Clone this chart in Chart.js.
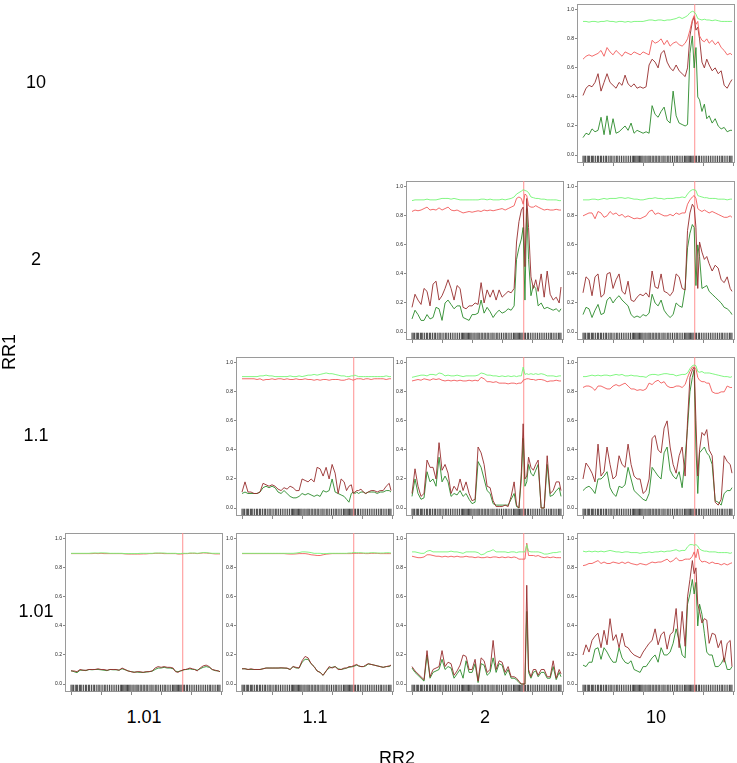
<!DOCTYPE html>
<html>
<head>
<meta charset="utf-8">
<script src="https://cdn.jsdelivr.net/npm/chart.js@4.4.1/dist/chart.umd.min.js"></script>
<style>
  body { margin:0; background:#fff; width:737px; height:763px; position:relative; overflow:hidden;
         font-family:'Liberation Sans', Arial, sans-serif; }
  canvas.panel { position:absolute; }
  .lab { position:absolute; font-size:18px; color:#000; transform:translate(-50%,-50%); white-space:nowrap; }
  .rot { transform:translate(-50%,-50%) rotate(-90deg); }
</style>
</head>
<body>
<script>
/* ── data ─────────────────────────────────────────────────────────────────── */

const RR_LEVELS = ["1.01","1.1","2","10"];
const Y_TICKS = [0,0.2,0.4,0.6,0.8,1.0];
const X_TICKS = [0,50,100,150,200,250];
const MARK_X = 186;

// marker positions shared by every panel
const X_POS = [0,5,10,15,20,25,30,35,40,45,
  50,55,60,65,70,75,80,85,90,95,
  100,105,110,115,120,125,130,135,140,145,
  150,155,160,165,170,174,178,182,185,188,
  191,194,198,202,206,210,215,220,225,230,
  235,240,245,248];

// rug positions
const RUG_POS = [0,2,4,7,9,11,14,16,18,21,24,26,29,31,34,37,39,42,45,47,50,53,56,58,61,64,67,70,73,76,
  79,82,84,86,88,90,92,94,96,98,100,103,105,108,110,112,115,117,120,122,125,127,130,133,135,138,141,143,
  146,149,152,155,157,160,163,166,169,171,173,175,177,179,181,183,185,187,189,192,194,197,200,203,206,
  209,212,215,218,221,224,227,230,232,235,238,241,244,246,248];

// RR1 = 10, RR2 = 10
const lg_10_10 = [0.92,0.92,0.915,0.92,0.92,0.915,0.92,0.92,0.925,0.92,
  0.92,0.915,0.92,0.92,0.915,0.92,0.915,0.92,0.92,0.92,
  0.92,0.925,0.93,0.93,0.925,0.93,0.93,0.925,0.93,0.93,
  0.935,0.94,0.95,0.94,0.95,0.96,0.98,0.99,0.985,0.97,
  0.94,0.935,0.93,0.935,0.93,0.93,0.925,0.93,0.925,0.92,
  0.92,0.92,0.92,0.92];
const rd_10_10 = [0.66,0.68,0.69,0.68,0.69,0.70,0.72,0.68,0.74,0.71,
  0.69,0.72,0.70,0.68,0.71,0.70,0.69,0.71,0.70,0.69,
  0.71,0.70,0.69,0.79,0.77,0.78,0.80,0.76,0.79,0.75,
  0.77,0.78,0.76,0.75,0.77,0.80,0.86,0.93,0.96,0.90,
  0.92,0.82,0.79,0.78,0.80,0.77,0.79,0.76,0.78,0.74,
  0.72,0.69,0.70,0.69];
const dr_10_10 = [0.41,0.46,0.48,0.47,0.50,0.56,0.44,0.50,0.56,0.50,
  0.48,0.46,0.50,0.48,0.55,0.49,0.47,0.49,0.46,0.47,
  0.46,0.47,0.62,0.66,0.64,0.60,0.70,0.72,0.64,0.60,
  0.58,0.62,0.58,0.56,0.54,0.60,0.82,0.92,0.95,0.86,
  0.88,0.80,0.64,0.60,0.66,0.62,0.58,0.60,0.56,0.58,
  0.48,0.46,0.50,0.52];
const dg_10_10 = [0.12,0.15,0.14,0.18,0.16,0.17,0.26,0.14,0.27,0.14,
  0.25,0.15,0.16,0.18,0.20,0.17,0.22,0.15,0.17,0.16,
  0.15,0.16,0.15,0.34,0.28,0.26,0.30,0.33,0.24,0.22,
  0.44,0.27,0.22,0.21,0.20,0.21,0.70,0.82,0.60,0.74,
  0.40,0.38,0.30,0.35,0.25,0.27,0.22,0.25,0.20,0.18,
  0.19,0.16,0.17,0.17];

// RR1 = 2, RR2 = 2
const lg_2_2 = [0.905,0.91,0.91,0.91,0.91,0.915,0.91,0.91,0.91,0.915,
  0.92,0.92,0.92,0.915,0.92,0.915,0.91,0.91,0.91,0.91,
  0.91,0.91,0.91,0.915,0.915,0.91,0.915,0.91,0.91,0.91,
  0.915,0.91,0.915,0.92,0.93,0.95,0.96,0.97,0.98,0.975,
  0.97,0.96,0.93,0.925,0.92,0.92,0.915,0.915,0.91,0.91,
  0.91,0.91,0.905,0.905];
const rd_2_2 = [0.83,0.84,0.835,0.84,0.85,0.86,0.84,0.845,0.84,0.855,
  0.84,0.85,0.86,0.84,0.835,0.84,0.83,0.82,0.825,0.83,
  0.825,0.83,0.835,0.83,0.84,0.835,0.84,0.835,0.84,0.845,
  0.85,0.84,0.85,0.86,0.87,0.92,0.93,0.92,0.88,0.95,
  0.94,0.87,0.86,0.86,0.87,0.86,0.85,0.84,0.845,0.84,
  0.84,0.845,0.84,0.84];
const dr_2_2 = [0.17,0.26,0.22,0.19,0.30,0.28,0.18,0.33,0.35,0.22,
  0.25,0.30,0.36,0.30,0.22,0.32,0.30,0.17,0.16,0.18,
  0.18,0.20,0.19,0.34,0.20,0.29,0.24,0.29,0.22,0.29,
  0.24,0.26,0.28,0.27,0.30,0.62,0.76,0.84,0.86,0.45,
  0.92,0.72,0.38,0.30,0.36,0.28,0.40,0.24,0.42,0.26,
  0.22,0.24,0.20,0.31];
const dg_2_2 = [0.09,0.15,0.12,0.08,0.08,0.12,0.09,0.10,0.17,0.16,
  0.08,0.20,0.22,0.19,0.16,0.18,0.18,0.10,0.09,0.08,
  0.12,0.12,0.13,0.22,0.13,0.17,0.14,0.10,0.13,0.15,
  0.13,0.14,0.16,0.15,0.18,0.50,0.58,0.64,0.72,0.22,
  0.85,0.50,0.25,0.32,0.30,0.18,0.20,0.16,0.17,0.16,
  0.15,0.16,0.14,0.16];

// RR1 = 2, RR2 = 10
const lg_2_10 = [0.91,0.91,0.91,0.915,0.915,0.91,0.915,0.92,0.915,0.92,
  0.92,0.92,0.925,0.925,0.92,0.925,0.92,0.915,0.915,0.91,
  0.91,0.915,0.92,0.92,0.925,0.92,0.92,0.915,0.92,0.92,
  0.92,0.925,0.925,0.93,0.925,0.95,0.97,0.98,0.98,0.975,
  0.94,0.935,0.93,0.925,0.925,0.92,0.92,0.92,0.915,0.915,
  0.915,0.91,0.915,0.915];
const rd_2_10 = [0.80,0.81,0.82,0.82,0.78,0.83,0.82,0.79,0.80,0.83,
  0.81,0.82,0.80,0.81,0.79,0.80,0.79,0.78,0.785,0.78,
  0.79,0.80,0.83,0.84,0.81,0.82,0.81,0.80,0.80,0.81,
  0.80,0.82,0.81,0.82,0.82,0.88,0.91,0.93,0.94,0.92,
  0.85,0.84,0.83,0.84,0.83,0.82,0.83,0.82,0.81,0.80,
  0.79,0.79,0.80,0.79];
const dr_2_10 = [0.27,0.38,0.36,0.25,0.38,0.40,0.24,0.26,0.40,0.41,
  0.30,0.36,0.40,0.28,0.26,0.35,0.22,0.21,0.24,0.26,
  0.25,0.27,0.24,0.42,0.31,0.30,0.40,0.28,0.27,0.25,
  0.28,0.40,0.38,0.30,0.29,0.70,0.82,0.88,0.86,0.72,
  0.30,0.62,0.55,0.50,0.52,0.47,0.42,0.46,0.44,0.36,
  0.34,0.38,0.30,0.28];
const dg_2_10 = [0.12,0.17,0.16,0.10,0.15,0.19,0.12,0.13,0.22,0.24,
  0.20,0.23,0.25,0.22,0.20,0.18,0.12,0.10,0.11,0.10,
  0.12,0.11,0.13,0.26,0.20,0.18,0.22,0.15,0.12,0.10,
  0.12,0.20,0.18,0.17,0.30,0.58,0.68,0.74,0.72,0.32,
  0.60,0.52,0.30,0.31,0.32,0.28,0.26,0.24,0.22,0.20,
  0.17,0.16,0.14,0.12];

// RR1 = 1.1, RR2 = 1.1
const lg_11_11 = [0.905,0.905,0.905,0.905,0.905,0.905,0.91,0.91,0.915,0.91,
  0.91,0.905,0.905,0.905,0.905,0.905,0.91,0.905,0.905,0.91,
  0.905,0.91,0.915,0.915,0.92,0.915,0.92,0.925,0.93,0.925,
  0.925,0.92,0.915,0.91,0.91,0.905,0.905,0.91,0.91,0.915,
  0.91,0.905,0.905,0.905,0.905,0.905,0.905,0.905,0.905,0.905,
  0.905,0.91,0.905,0.905];
const rd_11_11 = [0.89,0.89,0.89,0.89,0.89,0.885,0.89,0.88,0.885,0.885,
  0.89,0.885,0.89,0.89,0.885,0.89,0.885,0.885,0.89,0.885,
  0.885,0.89,0.885,0.885,0.88,0.885,0.88,0.885,0.885,0.88,
  0.885,0.885,0.885,0.88,0.88,0.885,0.89,0.885,0.88,0.885,
  0.89,0.89,0.89,0.885,0.89,0.89,0.885,0.89,0.89,0.89,
  0.89,0.885,0.89,0.89];
const dr_11_11 = [0.11,0.18,0.11,0.11,0.10,0.10,0.11,0.17,0.16,0.15,
  0.16,0.15,0.13,0.12,0.14,0.13,0.15,0.14,0.12,0.12,
  0.20,0.19,0.18,0.20,0.18,0.28,0.27,0.22,0.28,0.20,
  0.30,0.24,0.10,0.20,0.18,0.12,0.15,0.16,0.10,0.11,
  0.12,0.12,0.13,0.11,0.10,0.11,0.12,0.12,0.11,0.12,
  0.12,0.15,0.17,0.12];
const dg_11_11 = [0.10,0.11,0.10,0.10,0.10,0.10,0.11,0.14,0.15,0.14,
  0.15,0.14,0.11,0.10,0.12,0.10,0.08,0.07,0.07,0.08,
  0.10,0.09,0.10,0.09,0.08,0.09,0.08,0.12,0.11,0.12,
  0.20,0.11,0.10,0.09,0.08,0.06,0.04,0.10,0.11,0.10,
  0.11,0.10,0.11,0.11,0.10,0.11,0.11,0.11,0.10,0.11,
  0.11,0.12,0.12,0.11];

// RR1 = 1.1, RR2 = 2
const lg_11_2 = [0.90,0.905,0.91,0.915,0.915,0.91,0.92,0.92,0.915,0.93,
  0.925,0.91,0.915,0.91,0.91,0.915,0.91,0.905,0.91,0.91,
  0.91,0.91,0.915,0.93,0.925,0.915,0.915,0.91,0.91,0.905,
  0.91,0.905,0.91,0.905,0.91,0.905,0.91,0.91,0.97,0.92,
  0.925,0.92,0.925,0.92,0.925,0.92,0.925,0.92,0.91,0.91,
  0.91,0.905,0.91,0.91];
const rd_11_2 = [0.875,0.88,0.885,0.88,0.89,0.885,0.88,0.89,0.885,0.89,
  0.88,0.875,0.88,0.875,0.88,0.875,0.88,0.875,0.875,0.88,
  0.875,0.88,0.875,0.90,0.89,0.87,0.87,0.865,0.87,0.86,
  0.86,0.86,0.855,0.86,0.86,0.855,0.86,0.86,0.88,0.885,
  0.89,0.89,0.885,0.885,0.88,0.885,0.885,0.88,0.87,0.875,
  0.875,0.88,0.875,0.875];
const dr_11_2 = [0.10,0.27,0.15,0.08,0.10,0.33,0.28,0.28,0.20,0.45,
  0.26,0.30,0.24,0.10,0.15,0.12,0.20,0.12,0.18,0.10,
  0.05,0.06,0.42,0.38,0.30,0.15,0.14,0.05,0.01,0.01,
  0.01,0.02,0.01,0.08,0.18,0.02,0.0,0.25,0.58,0.20,
  0.22,0.35,0.28,0.26,0.30,0.33,0.0,0.0,0.36,0.10,
  0.12,0.18,0.18,0.12];
const dg_11_2 = [0.08,0.20,0.10,0.06,0.07,0.25,0.18,0.20,0.15,0.35,
  0.18,0.22,0.18,0.08,0.10,0.09,0.12,0.08,0.10,0.06,
  0.03,0.04,0.32,0.28,0.20,0.12,0.10,0.03,0.02,0.02,
  0.02,0.02,0.02,0.06,0.10,0.01,0.0,0.20,0.48,0.15,
  0.18,0.30,0.24,0.22,0.26,0.30,0.0,0.0,0.30,0.08,
  0.09,0.12,0.14,0.08];

// RR1 = 1.1, RR2 = 10
const lg_11_10 = [0.905,0.905,0.91,0.915,0.91,0.915,0.91,0.915,0.915,0.91,
  0.915,0.92,0.915,0.92,0.91,0.91,0.915,0.91,0.91,0.905,
  0.905,0.90,0.915,0.92,0.92,0.915,0.92,0.925,0.925,0.92,
  0.92,0.91,0.915,0.92,0.92,0.93,0.96,0.98,0.985,0.98,
  0.94,0.935,0.94,0.93,0.93,0.93,0.925,0.92,0.915,0.91,
  0.905,0.905,0.90,0.905];
const rd_11_10 = [0.83,0.84,0.84,0.83,0.81,0.84,0.84,0.83,0.82,0.82,
  0.84,0.85,0.84,0.85,0.86,0.84,0.82,0.82,0.81,0.815,
  0.81,0.82,0.86,0.85,0.87,0.88,0.86,0.87,0.84,0.83,
  0.83,0.84,0.84,0.83,0.85,0.90,0.94,0.97,0.97,0.96,
  0.90,0.88,0.87,0.87,0.86,0.86,0.80,0.79,0.79,0.80,
  0.80,0.84,0.83,0.83];
const dr_11_10 = [0.20,0.31,0.28,0.24,0.18,0.44,0.22,0.25,0.42,0.30,
  0.20,0.22,0.36,0.30,0.28,0.44,0.30,0.22,0.20,0.20,
  0.10,0.12,0.20,0.48,0.50,0.40,0.38,0.55,0.60,0.42,
  0.30,0.24,0.36,0.42,0.22,0.60,0.90,0.95,0.97,0.60,
  0.22,0.40,0.52,0.50,0.54,0.40,0.36,0.04,0.02,0.06,
  0.36,0.32,0.30,0.24];
const dg_11_10 = [0.12,0.14,0.15,0.13,0.10,0.20,0.20,0.22,0.25,0.14,
  0.10,0.08,0.15,0.14,0.16,0.28,0.20,0.12,0.10,0.08,
  0.06,0.05,0.10,0.28,0.25,0.22,0.20,0.38,0.42,0.26,
  0.22,0.20,0.25,0.14,0.35,0.55,0.80,0.90,0.95,0.42,
  0.10,0.38,0.40,0.42,0.38,0.36,0.30,0.05,0.04,0.02,
  0.10,0.12,0.12,0.14];

// RR1 = 1.01, RR2 = 1.01
const lg_101_101 = [0.90,0.90,0.90,0.90,0.90,0.90,0.90,0.902,0.902,0.902,
  0.903,0.903,0.902,0.90,0.90,0.90,0.90,0.90,0.898,0.898,
  0.898,0.898,0.898,0.90,0.90,0.90,0.90,0.90,0.902,0.902,
  0.902,0.902,0.90,0.90,0.90,0.90,0.898,0.898,0.90,0.90,
  0.90,0.90,0.902,0.902,0.902,0.90,0.902,0.905,0.905,0.902,
  0.90,0.90,0.90,0.90];
const rd_101_101 = [0.898,0.898,0.898,0.898,0.898,0.898,0.898,0.898,0.90,0.898,
  0.90,0.898,0.898,0.898,0.898,0.898,0.898,0.898,0.896,0.895,
  0.895,0.895,0.895,0.895,0.896,0.896,0.898,0.898,0.90,0.90,
  0.90,0.898,0.898,0.898,0.898,0.898,0.895,0.895,0.896,0.898,
  0.898,0.898,0.90,0.90,0.90,0.898,0.90,0.903,0.902,0.90,
  0.898,0.896,0.896,0.896];
const dr_101_101 = [0.09,0.09,0.085,0.10,0.095,0.095,0.10,0.10,0.10,0.105,
  0.10,0.10,0.095,0.10,0.10,0.10,0.095,0.11,0.10,0.09,
  0.085,0.08,0.085,0.085,0.08,0.085,0.085,0.09,0.11,0.12,
  0.115,0.12,0.115,0.115,0.11,0.085,0.08,0.09,0.095,0.10,
  0.10,0.105,0.11,0.105,0.10,0.09,0.11,0.125,0.13,0.12,
  0.10,0.095,0.09,0.085];
const dg_101_101 = [0.092,0.085,0.078,0.095,0.095,0.092,0.10,0.098,0.10,0.10,
  0.098,0.095,0.092,0.10,0.098,0.098,0.095,0.105,0.098,0.09,
  0.085,0.082,0.082,0.08,0.08,0.082,0.085,0.088,0.10,0.11,
  0.11,0.115,0.11,0.11,0.105,0.088,0.085,0.09,0.092,0.098,
  0.10,0.10,0.105,0.10,0.10,0.095,0.105,0.115,0.12,0.115,
  0.10,0.092,0.09,0.085];

// RR1 = 1.01, RR2 = 1.1
const lg_101_11 = [0.90,0.90,0.90,0.90,0.90,0.90,0.90,0.90,0.90,0.90,
  0.90,0.90,0.90,0.90,0.90,0.90,0.90,0.90,0.902,0.905,
  0.91,0.91,0.908,0.905,0.90,0.90,0.90,0.898,0.898,0.90,
  0.90,0.90,0.90,0.90,0.90,0.90,0.902,0.902,0.905,0.905,
  0.904,0.904,0.904,0.902,0.902,0.902,0.904,0.904,0.902,0.902,
  0.902,0.904,0.904,0.902];
const rd_101_11 = [0.898,0.898,0.898,0.898,0.898,0.898,0.898,0.898,0.898,0.898,
  0.898,0.898,0.898,0.898,0.898,0.896,0.895,0.895,0.896,0.898,
  0.898,0.898,0.895,0.89,0.888,0.885,0.885,0.89,0.894,0.896,
  0.898,0.898,0.898,0.898,0.898,0.898,0.898,0.898,0.90,0.90,
  0.90,0.90,0.90,0.90,0.898,0.898,0.90,0.90,0.90,0.898,
  0.898,0.898,0.898,0.898];
const dr_101_11 = [0.105,0.105,0.10,0.105,0.10,0.10,0.10,0.105,0.11,0.11,
  0.11,0.11,0.11,0.112,0.11,0.11,0.10,0.12,0.115,0.11,
  0.16,0.19,0.18,0.14,0.12,0.09,0.08,0.06,0.09,0.12,
  0.11,0.12,0.10,0.10,0.11,0.11,0.12,0.12,0.125,0.13,
  0.135,0.125,0.12,0.12,0.13,0.14,0.135,0.13,0.125,0.12,
  0.115,0.12,0.125,0.13];
const dg_101_11 = [0.105,0.105,0.10,0.10,0.10,0.10,0.10,0.105,0.11,0.11,
  0.11,0.11,0.11,0.11,0.11,0.108,0.10,0.12,0.11,0.11,
  0.15,0.17,0.17,0.14,0.12,0.09,0.08,0.06,0.09,0.11,
  0.115,0.12,0.105,0.10,0.105,0.11,0.115,0.118,0.12,0.125,
  0.13,0.125,0.12,0.12,0.125,0.138,0.135,0.13,0.125,0.12,
  0.115,0.12,0.12,0.128];

// RR1 = 1.01, RR2 = 2
const lg_101_2 = [0.91,0.91,0.905,0.90,0.90,0.915,0.92,0.91,0.91,0.91,
  0.91,0.91,0.91,0.915,0.91,0.91,0.905,0.90,0.91,0.91,
  0.91,0.91,0.905,0.89,0.895,0.91,0.915,0.925,0.91,0.91,
  0.91,0.91,0.905,0.91,0.91,0.905,0.91,0.91,0.91,0.91,
  0.96,0.915,0.91,0.91,0.91,0.91,0.905,0.895,0.895,0.90,
  0.905,0.905,0.91,0.91];
const rd_101_2 = [0.88,0.875,0.87,0.87,0.875,0.89,0.89,0.885,0.88,0.88,
  0.875,0.88,0.875,0.88,0.875,0.88,0.875,0.875,0.88,0.875,
  0.875,0.87,0.875,0.87,0.87,0.875,0.87,0.875,0.875,0.87,
  0.875,0.87,0.875,0.87,0.875,0.87,0.86,0.86,0.86,0.86,
  0.97,0.885,0.885,0.885,0.88,0.885,0.875,0.87,0.875,0.87,
  0.875,0.87,0.87,0.87];
const dr_101_2 = [0.12,0.09,0.07,0.05,0.03,0.23,0.05,0.10,0.11,0.12,
  0.23,0.12,0.15,0.14,0.06,0.09,0.13,0.20,0.19,0.10,
  0.10,0.17,0.02,0.18,0.16,0.08,0.10,0.30,0.10,0.16,
  0.15,0.08,0.12,0.05,0.05,0.04,0.02,0.0,0.0,0.0,
  0.68,0.10,0.05,0.10,0.10,0.06,0.10,0.10,0.05,0.05,
  0.16,0.04,0.10,0.07];
const dg_101_2 = [0.11,0.08,0.06,0.04,0.02,0.20,0.04,0.08,0.09,0.10,
  0.17,0.10,0.12,0.11,0.04,0.07,0.10,0.04,0.16,0.08,
  0.08,0.14,0.01,0.14,0.13,0.06,0.08,0.18,0.08,0.14,
  0.13,0.06,0.10,0.04,0.04,0.03,0.01,0.0,0.0,0.0,
  0.50,0.08,0.04,0.08,0.09,0.05,0.08,0.08,0.04,0.04,
  0.12,0.03,0.08,0.05];

// RR1 = 1.01, RR2 = 10
const lg_101_10 = [0.915,0.91,0.915,0.91,0.915,0.91,0.915,0.91,0.915,0.92,
  0.915,0.91,0.91,0.905,0.91,0.91,0.905,0.905,0.905,0.90,
  0.905,0.905,0.91,0.905,0.91,0.91,0.915,0.91,0.915,0.915,
  0.92,0.925,0.915,0.92,0.92,0.945,0.96,0.96,0.955,0.96,
  0.95,0.93,0.92,0.915,0.915,0.91,0.91,0.91,0.905,0.905,
  0.905,0.905,0.90,0.905];
const rd_101_10 = [0.815,0.82,0.83,0.83,0.84,0.85,0.83,0.84,0.83,0.83,
  0.84,0.835,0.83,0.84,0.83,0.84,0.83,0.825,0.82,0.83,
  0.825,0.82,0.83,0.84,0.835,0.84,0.84,0.85,0.86,0.84,
  0.85,0.87,0.85,0.85,0.86,0.86,0.86,0.88,0.91,0.87,
  0.93,0.86,0.84,0.845,0.84,0.83,0.84,0.83,0.83,0.82,
  0.83,0.82,0.83,0.835];
const dr_101_10 = [0.20,0.27,0.22,0.30,0.33,0.35,0.25,0.37,0.27,0.45,
  0.30,0.34,0.25,0.35,0.26,0.25,0.22,0.20,0.19,0.18,
  0.22,0.25,0.28,0.30,0.38,0.27,0.34,0.36,0.24,0.34,
  0.36,0.52,0.25,0.50,0.26,0.60,0.72,0.85,0.76,0.80,
  0.55,0.50,0.42,0.45,0.44,0.28,0.35,0.34,0.25,0.30,
  0.15,0.28,0.30,0.12];
const dg_101_10 = [0.13,0.12,0.15,0.15,0.24,0.25,0.17,0.25,0.22,0.18,
  0.15,0.15,0.25,0.18,0.15,0.14,0.16,0.10,0.09,0.08,
  0.12,0.12,0.15,0.18,0.20,0.15,0.25,0.20,0.20,0.22,
  0.28,0.38,0.30,0.20,0.18,0.55,0.62,0.72,0.62,0.70,
  0.40,0.55,0.48,0.35,0.22,0.20,0.20,0.12,0.12,0.14,
  0.18,0.10,0.10,0.12];

// which panels exist: [RR1, RR2, series]
const PANELS = [
  ["10","10",  [lg_10_10, rd_10_10, dr_10_10, dg_10_10]],
  ["2","2",    [lg_2_2, rd_2_2, dr_2_2, dg_2_2]],
  ["2","10",   [lg_2_10, rd_2_10, dr_2_10, dg_2_10]],
  ["1.1","1.1",[lg_11_11, rd_11_11, dr_11_11, dg_11_11]],
  ["1.1","2",  [lg_11_2, rd_11_2, dr_11_2, dg_11_2]],
  ["1.1","10", [lg_11_10, rd_11_10, dr_11_10, dg_11_10]],
  ["1.01","1.01",[lg_101_101, rd_101_101, dr_101_101, dg_101_101]],
  ["1.01","1.1", [lg_101_11, rd_101_11, dr_101_11, dg_101_11]],
  ["1.01","2",   [lg_101_2, rd_101_2, dr_101_2, dg_101_2]],
  ["1.01","10",  [lg_101_10, rd_101_10, dr_101_10, dg_101_10]],
];

/* ── layout ───────────────────────────────────────────────────────────────── */

const COL_LEFT = [65, 236, 406, 577];   // frame left per RR2 level
const ROW_TOP  = [529, 353, 177, 0];    // frame top per RR1 level
const FRAME_W = 158, FRAME_H = 163, AXIS_W = 16, AXIS_H = 5;
const Y_MIN = -0.055, Y_MAX = 1.04, X_MIN = -10, X_MAX = 253;
const RUG_Y = -0.027;
const SERIES_COLORS = ["#74f574", "#f25a5a", "#962c2c", "#2a8a2a"];

const framePlugin = {
  id: "frame",
  beforeDatasetsDraw(chart) {
    const { ctx, chartArea: a } = chart;
    ctx.save();
    ctx.strokeStyle = "#9a9a9a";
    ctx.lineWidth = 1;
    ctx.strokeRect(a.left + 0.5, a.top + 0.5, a.right - a.left - 1, a.bottom - a.top - 1);
    ctx.restore();
  }
};

function addLabel(text, x, y, cls) {
  const d = document.createElement("div");
  d.className = "lab" + (cls ? " " + cls : "");
  d.textContent = text;
  d.style.left = x + "px";
  d.style.top = y + "px";
  document.body.appendChild(d);
}

function drawPanel(rr1, rr2, series) {
  const ci = RR_LEVELS.indexOf(rr2), ri = RR_LEVELS.indexOf(rr1);
  const cv = document.createElement("canvas");
  cv.className = "panel";
  cv.width = AXIS_W + FRAME_W;
  cv.height = FRAME_H + AXIS_H;
  cv.style.left = (COL_LEFT[ci] - AXIS_W) + "px";
  cv.style.top = ROW_TOP[ri] + "px";
  document.body.appendChild(cv);

  const lineSets = [3, 2, 1, 0].map(k => ({
    data: X_POS.map((x, i) => ({ x, y: series[k][i] })),
    borderColor: SERIES_COLORS[k], borderWidth: 0.9, pointRadius: 0, tension: 0, fill: false,
    order: k
  }));
  const markSet = {
    data: [{ x: MARK_X, y: Y_MIN }, { x: MARK_X, y: Y_MAX }],
    borderColor: "#ff9090", borderWidth: 1, pointRadius: 0, order: 10
  };
  const rugSet = {
    data: RUG_POS.map(x => ({ x, y: RUG_Y })),
    showLine: false, pointStyle: "line", rotation: 90, pointRadius: 3.2,
    borderColor: "#111", pointBorderWidth: 0.8, order: 11
  };

  new Chart(cv.getContext("2d"), {
    type: "line",
    data: { datasets: [...lineSets, markSet, rugSet] },
    options: {
      responsive: false, animation: false,
      layout: { padding: 0, autoPadding: false },
      plugins: { legend: { display: false }, tooltip: { enabled: false } },
      scales: {
        x: {
          type: "linear", min: X_MIN, max: X_MAX,
          afterBuildTicks: s => { s.ticks = X_TICKS.map(v => ({ value: v })); },
          afterFit: s => { s.height = AXIS_H; },
          ticks: { display: false },
          grid: { drawOnChartArea: false, drawTicks: true, tickLength: 3, color: "#888" },
          border: { display: false }
        },
        y: {
          min: Y_MIN, max: Y_MAX,
          afterBuildTicks: s => { s.ticks = Y_TICKS.map(v => ({ value: v })); },
          afterFit: s => { s.width = AXIS_W; },
          ticks: { font: { size: 5, family: "'Liberation Sans', Arial" }, color: "#222", padding: 1,
                   callback: v => v.toFixed(1) },
          grid: { drawOnChartArea: false, drawTicks: true, tickLength: 2, color: "#888" },
          border: { display: false }
        }
      }
    },
    plugins: [framePlugin]
  });
}

PANELS.forEach(p => drawPanel(p[0], p[1], p[2]));

// facet labels
RR_LEVELS.forEach((lv, i) => {
  addLabel(lv, COL_LEFT[i] + FRAME_W / 2, 717);
  addLabel(lv, 36, ROW_TOP[i] + FRAME_H / 2);
});
addLabel("RR2", 397, 758);
addLabel("RR1", 9, 352, "rot");
</script>
</body>
</html>
